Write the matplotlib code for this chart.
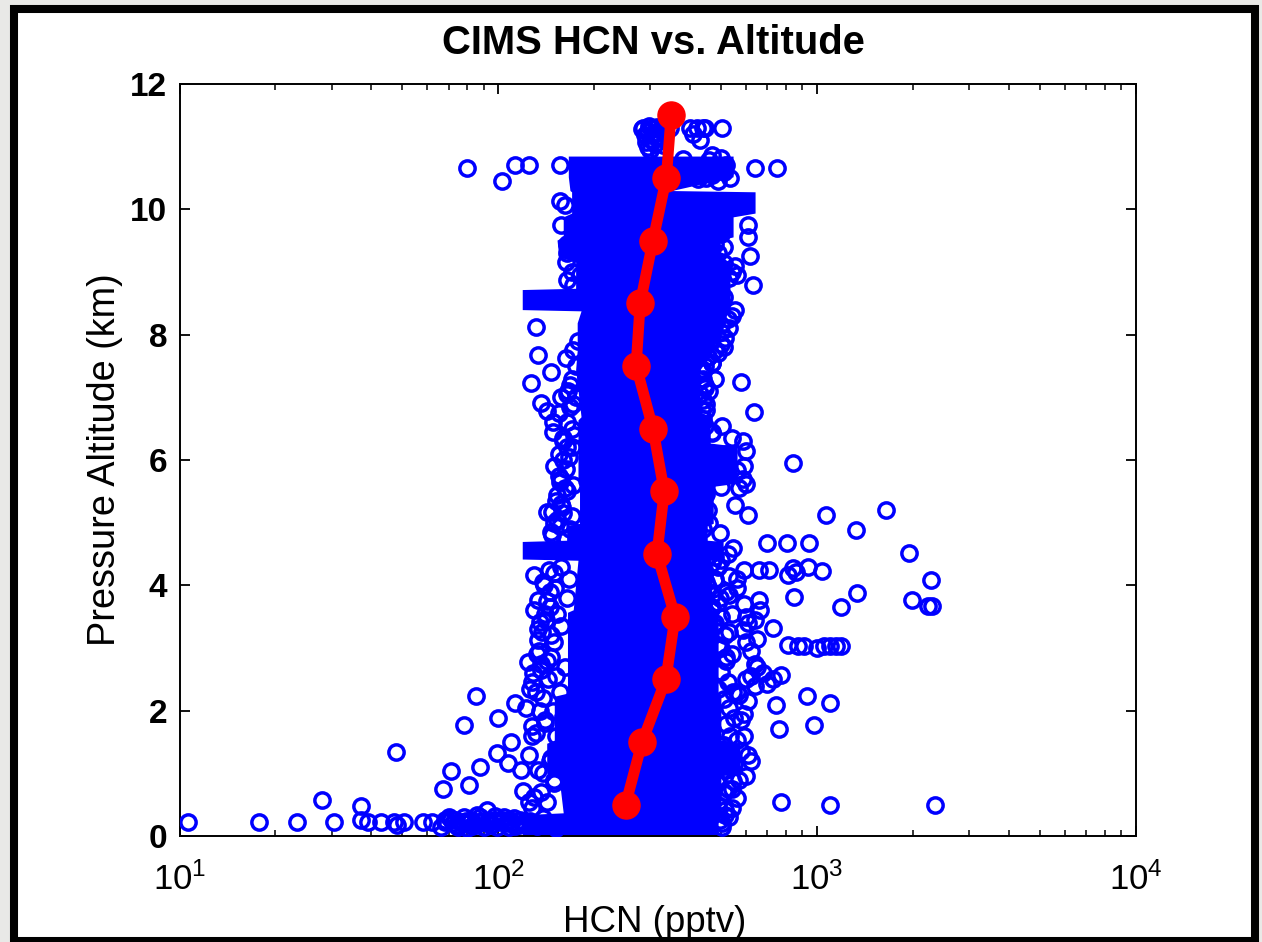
"""CIMS HCN vs. altitude: scatter of HCN readings with the 1 km binned profile on top.

The middle of the cloud is solid blue in the picture (single rings cannot be
told apart there), so it is drawn as a band from edges read off the picture.
Rings that can be made out are listed one by one.

Saves out.png.
"""

import matplotlib

matplotlib.use("Agg")
import matplotlib.pyplot as plt
from matplotlib.patches import Rectangle

W, H = 1262, 942
BLUE = "#0000ff"
RED = "#ff0000"

# edges of the solid part of the cloud
core_alt = [10.85, 10.52, 10.3, 10.28, 9.94, 9.88, 9.56, 9.51, 9.24, 9.16, 8.74, 8.72,
            8.4, 8.38, 8.19, 7.75, 7.44, 6.69, 6.64, 6.27, 6.22, 5.63, 5.58, 4.99,
            4.95, 4.72, 4.7, 4.42, 4.40, 3.61, 3.57, 2.97, 2.28, 2.23, 1.53, 1.48,
            1.0, 0.96, 0.37, 0.34, 0.0]
core_left = [166, 166, 168, 170, 170, 160, 160, 153, 155, 175, 175, 119,
             119, 182, 177, 177, 175, 182, 178, 178, 178, 178, 180, 180,
             164, 164, 119, 119, 178, 172, 165, 165, 165, 150, 150, 142,
             142, 155, 160, 119, 119]
core_right = [546, 546, 350, 640, 640, 546, 546, 497, 497, 534, 534, 534,
              534, 534, 500, 473, 430, 430, 463, 463, 562, 562, 473, 473,
              453, 453, 508, 508, 465, 470, 490, 490, 490, 500, 500, 574,
              574, 500, 500, 490, 490]

# near the ground, running out to the far low readings
low_hcn = [10.6, 17.7, 23.4, 28, 30.5, 37, 37, 39, 43, 47, 48, 50.5, 58, 62, 68, 73,
           77, 81, 87, 94, 101, 109, 117, 66, 70, 74, 78, 83, 88, 92, 97, 103, 110,
           68, 75, 82, 90, 99, 106, 113, 119, 92, 86, 126, 132, 138, 145, 152,
           72, 79, 85, 95, 104, 112, 71, 80, 89, 98, 108, 116]
low_alt = [0.22, 0.22, 0.22, 0.57, 0.22, 0.48, 0.25, 0.22, 0.22, 0.22, 0.17, 0.22, 0.22,
           0.22, 0.22, 0.25, 0.22, 0.22, 0.22, 0.22, 0.22, 0.25, 0.25, 0.15, 0.3, 0.18,
           0.3, 0.16, 0.3, 0.2, 0.26, 0.25, 0.2, 0.26, 0.14, 0.26, 0.14, 0.14, 0.2,
           0.16, 0.2, 0.41, 0.34, 0.24, 0.16, 0.28, 0.2, 0.12,
           0.2, 0.24, 0.18, 0.17, 0.3, 0.28, 0.27, 0.13, 0.24, 0.32, 0.15, 0.18]

# left side of the cloud, below 8 km
left_hcn = [47.7, 71, 67, 81, 88, 78, 85, 100, 99, 110, 113, 107, 124, 133, 135, 133,
            130, 118, 125, 122, 128, 136, 132, 128, 140, 131, 136, 142, 120, 125, 130,
            138, 145, 150, 128, 135, 133, 140, 147, 152, 138, 145, 130, 142, 150, 156,
            148, 153, 142, 150, 158, 162, 146, 155, 150, 160, 149, 156, 165, 170, 155,
            160, 166, 172, 133, 127, 146, 136, 142, 149, 131, 163, 168, 158, 160]
left_alt = [1.34, 1.04, 0.75, 0.82, 1.1, 1.77, 2.23, 1.88, 1.32, 1.5, 2.12, 1.16, 2.78,
            3.13, 3.41, 3.77, 4.16, 1.05, 1.3, 2.05, 2.45, 2.65, 2.9, 1.6, 1.85, 2.3,
            2.75, 2.8, 0.72, 0.55, 0.62, 1.0, 1.2, 0.9, 1.75, 2.0, 3.3, 3.55, 3.2, 2.55,
            4.05, 3.9, 3.6, 3.75, 4.2, 4.95, 5.17, 5.44, 5.17, 5.0, 5.3, 5.55, 4.85,
            5.75, 5.9, 6.0, 6.45, 5.65, 6.2, 6.5, 6.75, 6.35, 7.1, 6.9, 7.68, 7.23, 7.4,
            6.91, 6.78, 6.6, 8.12, 7.62, 7.2, 7.0, 5.15]

# rings packed against the left edge of the solid part
packed_left_hcn = [128, 136, 142, 150, 133, 146, 155, 131, 140, 152, 126, 138, 149, 160,
                   129, 143, 156, 134, 147, 162, 137, 150, 141, 158, 145, 153, 164, 139,
                   151, 167, 144, 157, 148, 163, 153, 168, 159, 170, 152, 165, 158, 172,
                   163, 155, 167, 160, 171, 164, 173, 168, 165, 175, 170, 176, 172, 178]
packed_left_alt = [0.45, 0.7, 0.55, 0.85, 1.05, 1.25, 1.1, 1.65, 1.8, 1.6, 2.35, 2.2, 2.0,
                   1.9, 2.6, 2.5, 2.3, 2.95, 2.85, 2.7, 3.25, 3.1, 3.45, 3.35, 3.65, 3.55,
                   3.8, 4.0, 3.95, 4.1, 4.25, 4.3, 4.8, 4.75, 5.05, 4.9, 5.25, 5.1, 5.35,
                   5.5, 5.7, 5.6, 5.85, 6.1, 6.05, 6.3, 6.2, 6.6, 6.4, 6.85, 7.05, 7.0,
                   7.3, 7.5, 7.75, 7.9]

# left side and the lone rings above 8 km
top_hcn = [80, 103, 113, 125, 156, 156, 162, 163, 164, 172, 165, 170, 180, 158, 164,
           285, 295, 305, 315, 325, 335, 345, 295, 310, 300, 320, 330, 400, 420, 445,
           505, 430, 440, 410, 469, 500, 520, 533, 640, 750, 450, 470, 490, 395, 425,
           460, 510, 380, 400, 288, 300, 312, 290, 306, 322, 282, 298, 316]
top_alt = [10.66, 10.45, 10.7, 10.7, 10.7, 10.13, 10.07, 9.16, 8.87, 8.8, 9.45, 9.0, 8.95,
           9.75, 9.3, 11.3, 11.25, 11.3, 11.22, 11.3, 11.25, 11.3, 11.0, 11.05, 10.95,
           10.9, 11.02, 11.3, 11.3, 11.3, 11.3, 11.1, 11.3, 11.2, 10.87, 10.82, 10.7,
           10.5, 10.66, 10.66, 10.5, 10.55, 10.45, 10.55, 10.48, 10.78, 10.6, 10.8, 10.62,
           11.18, 11.12, 11.15, 11.08, 11.2, 11.14, 11.28, 11.33, 11.32]

# right side of the cloud, 5.5 km and up
upper_right_hcn = [606, 606, 617, 630, 555, 555, 580, 636, 588, 470, 840, 562, 500, 570,
                   585, 600, 540, 520, 505, 560, 540, 510, 480, 530, 515, 500, 470, 490,
                   455, 440, 445, 460, 510, 470, 480, 440, 450, 430, 445, 500, 525, 540,
                   510, 530, 490, 470, 590, 600]
upper_right_alt = [9.75, 9.56, 9.25, 8.79, 9.1, 8.39, 7.24, 6.76, 6.3, 6.43, 5.95, 5.84,
                   5.57, 5.55, 5.7, 5.62, 6.35, 6.1, 6.55, 8.95, 9.0, 9.15, 8.2, 8.1,
                   7.95, 7.85, 8.0, 7.7, 7.65, 7.4, 7.2, 7.1, 7.8, 7.55, 7.3, 6.95, 6.8,
                   6.6, 7.5, 8.15, 8.25, 8.3, 8.6, 8.9, 9.1, 6.45, 5.9, 6.15]

# right side of the cloud below 5.5 km, with the far right readings
lower_right_hcn = [555, 610, 700, 805, 497, 1065, 945, 1330, 1650, 1940, 2280, 1990, 2240,
                   2300, 1340, 1190, 1040, 935, 840, 810, 860, 845, 710, 660, 590, 730,
                   660, 665, 640, 585, 810, 870, 910, 1000, 1050, 1100, 1150, 1195, 770,
                   730, 700, 930, 1100, 980, 745, 760, 570, 590, 580, 560, 640, 620, 600,
                   590, 680, 640, 600, 520, 500, 480, 540, 520, 560, 490, 530, 610, 650,
                   590, 610, 770, 1100, 2350, 490, 497, 515, 505, 540, 570, 550, 600, 620,
                   580, 510, 470, 485, 520, 540, 505, 470, 460, 490, 560, 620, 650, 600,
                   530, 450, 470, 495, 530, 560, 610, 480, 500, 525, 545]
lower_right_alt = [5.28, 5.12, 4.68, 4.68, 4.83, 5.12, 4.68, 4.88, 5.2, 4.51, 4.08, 3.77,
                   3.67, 3.67, 3.88, 3.66, 4.23, 4.3, 4.27, 4.17, 4.22, 3.82, 4.25, 4.25,
                   4.25, 3.32, 3.77, 3.6, 3.45, 3.29, 3.05, 3.03, 3.03, 3.0, 3.03, 3.03,
                   3.03, 3.03, 2.57, 2.5, 2.42, 2.23, 2.12, 1.77, 2.09, 1.71, 2.25, 1.95,
                   1.85, 1.53, 2.75, 2.95, 3.1, 3.7, 2.6, 2.4, 2.5, 2.85, 3.0, 3.4, 3.55,
                   3.9, 4.1, 4.3, 3.25, 2.15, 2.7, 1.6, 1.3, 0.55, 0.5, 0.5, 0.5, 0.25,
                   0.33, 0.15, 0.75, 0.9, 1.15, 0.95, 1.2, 1.35, 0.7, 0.65, 0.85, 1.05,
                   0.45, 1.45, 1.7, 2.0, 2.35, 2.3, 2.55, 3.15, 3.5, 3.85, 4.05, 3.65, 3.8,
                   4.15, 3.95, 3.4, 4.45, 4.4, 4.5, 4.6]

# rings packed against the right edge of the solid part
packed_right_hcn = [505, 530, 515, 560, 525, 545, 510, 535, 520, 550, 530, 510, 545, 525,
                    500, 520, 540, 490, 515, 475, 500, 465, 490, 470, 455, 480, 445, 470,
                    440, 460, 435, 455, 430, 450, 445, 440, 435, 450, 430, 445, 440, 435,
                    470, 455, 480, 465, 500, 475, 490, 510, 480, 500, 470, 495]
packed_right_alt = [0.2, 0.3, 0.42, 0.6, 0.75, 0.88, 1.45, 1.6, 1.78, 1.88, 2.05, 2.18,
                    2.3, 2.45, 2.62, 2.8, 2.9, 3.05, 3.2, 3.35, 3.5, 3.62, 3.72, 3.85,
                    3.98, 4.1, 4.22, 4.35, 4.9, 5.0, 5.1, 5.2, 5.35, 5.45, 6.55, 6.65,
                    6.8, 6.9, 7.05, 7.15, 7.3, 7.45, 7.55, 7.65, 7.75, 7.9, 8.05, 8.15,
                    9.3, 9.4, 9.45, 9.6, 9.7, 9.8]

# 1 km bin means
mean_hcn = [251, 283, 336, 359, 315, 332, 306, 271, 279, 306, 337, 349]
mean_alt = [0.5, 1.5, 2.5, 3.5, 4.5, 5.5, 6.5, 7.5, 8.5, 9.5, 10.5, 11.5]

y_ticks = [0, 2, 4, 6, 8, 10, 12]
x_ticks = [10, 100, 1000, 10000]
x_tick_labels = ["$\\mathregular{10^{1}}$", "$\\mathregular{10^{2}}$",
                 "$\\mathregular{10^{3}}$", "$\\mathregular{10^{4}}$"]


def main():
    plt.rcParams["font.family"] = ["Liberation Sans", "DejaVu Sans"]
    fig = plt.figure(figsize=(W / 100, H / 100), dpi=100, facecolor="#e9e9e7")
    fig.add_artist(Rectangle((14 / W, 1 - 941 / H), 1240.5 / W, 932 / H,
                             transform=fig.transFigure, facecolor="white",
                             edgecolor="black", lw=5.8, zorder=-1))

    ax = fig.add_axes([179.5 / W, 1 - 836 / H, 956 / W, 752 / H])
    ax.set_xscale("log")
    ax.set_xlim(10, 10000)
    ax.set_ylim(0, 12)

    ax.fill_betweenx(core_alt, core_left, core_right, color=BLUE, lw=0, zorder=2)
    for hcn, alt in [(low_hcn, low_alt), (left_hcn, left_alt), (packed_left_hcn, packed_left_alt),
                     (top_hcn, top_alt), (upper_right_hcn, upper_right_alt),
                     (lower_right_hcn, lower_right_alt), (packed_right_hcn, packed_right_alt)]:
        ax.plot(hcn, alt, ls="none", marker="o", ms=11, mfc="none", mec=BLUE, mew=2.5, zorder=3)
    ax.plot(mean_hcn, mean_alt, color=RED, lw=7.9, marker="o", ms=19.5, mfc=RED, mec=RED, zorder=4)

    ax.set_xticks(x_ticks)
    ax.set_xticklabels(x_tick_labels)
    ax.set_yticks(y_ticks)
    ax.tick_params(which="major", direction="in", length=7, width=1.3, top=True, right=True,
                   labelsize=24, pad=9)
    ax.tick_params(axis="x", which="major", labelsize=25, pad=19)
    ax.tick_params(which="minor", direction="in", length=4.5, width=1.1, top=True, right=True)
    for spine in ax.spines.values():
        spine.set_linewidth(1.4)
    for label in ax.get_yticklabels():
        label.set_fontweight("bold")

    fig.text(653 / W, 1 - 43 / H, "CIMS HCN vs. Altitude", ha="center", va="center",
             fontsize=28.8, fontweight="bold")
    fig.text(655 / W, 1 - 922 / H, "HCN (pptv)", ha="center", va="center", fontsize=26.4)
    fig.text(105 / W, 1 - 460 / H, "Pressure Altitude (km)", ha="center", va="center",
             rotation=90, fontsize=27.3)

    fig.savefig("out.png", dpi=100, facecolor=fig.get_facecolor())


if __name__ == "__main__":
    main()
